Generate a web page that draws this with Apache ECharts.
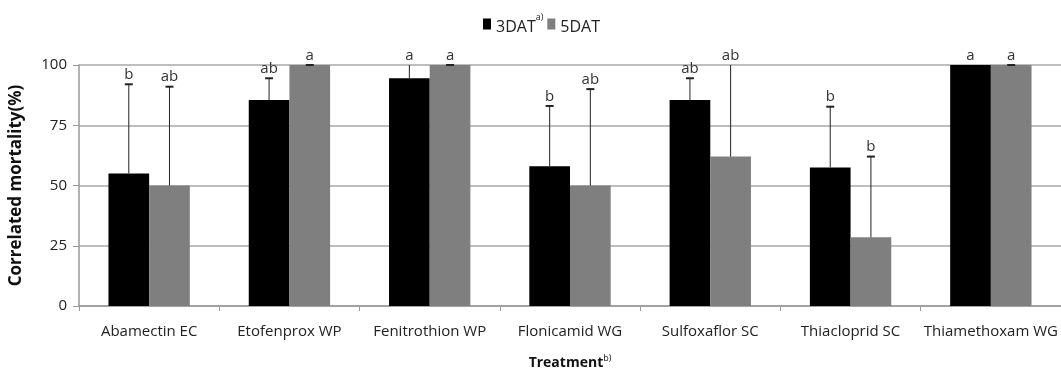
<!DOCTYPE html>
<html>
<head>
<meta charset="utf-8">
<script src="https://cdn.jsdelivr.net/npm/echarts@6/dist/echarts.min.js"></script>
<style>
html,body{margin:0;padding:0;background:#fff;}
#c{width:1061px;height:382px;}
</style>
</head>
<body>
<div id="c"></div>
<script>
var categories = ['Abamectin EC','Etofenprox WP','Fenitrothion WP','Flonicamid WG','Sulfoxaflor SC','Thiacloprid SC','Thiamethoxam WG'];
var dat3 = [55, 85.5, 94.5, 58, 85.5, 57.5, 100];
var dat5 = [50, 100, 100, 50, 62, 28.5, 100];
var dat3ErrTop = [92, 94.5, 100, 83, 94.5, 82.7, null];
var dat5ErrTop = [91, 100, 100, 90, 100, 62, 100];
var dat3Cap = [true, true, false, true, true, true, false];
var dat5Cap = [true, true, true, true, false, true, true];
var dat3Letters = ['b','ab','a','b','ab','b','a'];
var dat5Letters = ['ab','a','a','ab','ab','b','a'];
var yTicks = [0, 25, 50, 75, 100];

var chart = echarts.init(document.getElementById('c'));
var GAP = 0.42;
var FONT = '"Open Sans", "Noto Sans", sans-serif';

function errData(vals, tops, caps, letters, side) {
  return vals.map(function(v, i){
    return [i, v, tops[i] == null ? v : tops[i], side, letters[i], tops[i] == null ? 0 : 1, caps[i] ? 1 : 0];
  });
}

function renderErr(params, api) {
  var idx = api.value(0);
  var v = api.value(1);
  var top = api.value(2);
  var side = api.value(3);
  var hasErr = api.value(5);
  var hasCap = api.value(6);
  var catW = api.size([1, 0])[0];
  var barW = catW * (1 - GAP) / 2;
  var base = api.coord([idx, v]);
  var cx = base[0] + side * barW / 2;
  var pTop = api.coord([idx, top]);
  var children = [];
  var labelY = base[1];
  if (hasErr) {
    if (top > v) {
      children.push({type:'line', shape:{x1:cx, y1:base[1], x2:cx, y2:pTop[1]}, style:{stroke:'#222', lineWidth:1}});
    }
    if (hasCap) {
      children.push({type:'line', shape:{x1:cx-4, y1:pTop[1], x2:cx+4, y2:pTop[1]}, style:{stroke:'#222', lineWidth:2}});
    }
    labelY = pTop[1];
  }
  children.push({type:'text', style:{x:cx, y:labelY - 2, text:api.value(4), fill:'#333', font:'15px ' + FONT, textAlign:'center', textVerticalAlign:'bottom'}});
  return {type:'group', children: children};
}

chart.setOption({
  animation: false,
  backgroundColor: '#fff',
  legend: {
    data: ['3DAT', '5DAT'],
    top: 8,
    left: 478,
    itemWidth: 8,
    itemHeight: 11,
    itemGap: 4,
    icon: 'rect',
    formatter: function(name){ return name === '3DAT' ? '{n|3DAT}{s|a)}' : '{n|5DAT}'; },
    textStyle: {
      color: '#222',
      rich: {
        n: {fontSize: 16, fontFamily: FONT, color: '#222', padding:[6,0,0,0]},
        s: {fontSize: 9, fontFamily: FONT, color: '#222', verticalAlign: 'top', padding:[0,0,10,0]}
      }
    }
  },
  grid: {left: 74, width: 991, top: 65, height: 241, containLabel: false},
  xAxis: {
    type: 'category',
    data: categories,
    name: '{t|Treatment}{s|b)}',
    nameLocation: 'middle',
    nameGap: 48,
    nameTextStyle: {
      rich: {
        t: {fontSize: 14, fontWeight: 'bold', fontFamily: FONT, color: '#111'},
        s: {fontSize: 9, fontFamily: FONT, color: '#111', verticalAlign: 'top', padding: [0,0,10,0]}
      }
    },
    axisLine: {lineStyle: {color: '#999', width: 1.5}},
    axisTick: {show: true, length: 5, lineStyle: {color: '#999'}},
    axisLabel: {interval: 0, fontSize: 15, fontFamily: FONT, color: '#222', margin: 18}
  },
  yAxis: {
    type: 'value',
    min: 0, max: 100, interval: 25,
    name: 'Correlated mortality(%)',
    nameLocation: 'middle',
    nameGap: 54,
    nameTextStyle: {fontSize: 17, fontWeight: 'bold', fontFamily: FONT, color: '#111'},
    axisLine: {show: true, lineStyle: {color: '#999', width: 1.5}},
    axisTick: {show: true, length: 6, lineStyle: {color: '#999'}},
    axisLabel: {fontSize: 15, fontFamily: FONT, color: '#222', margin: 12,
      formatter: function(v){ return yTicks.indexOf(v) >= 0 ? String(v) : ''; }},
    splitLine: {lineStyle: {color: '#a8a8a8', width: 1.5}}
  },
  series: [
    {name: '3DAT', type: 'bar', data: dat3, barGap: 0, barCategoryGap: (GAP*100) + '%', itemStyle: {color: '#000'}},
    {name: '5DAT', type: 'bar', data: dat5, barGap: 0, barCategoryGap: (GAP*100) + '%', itemStyle: {color: '#7f7f7f'}},
    {type: 'custom', renderItem: renderErr, data: errData(dat3, dat3ErrTop, dat3Cap, dat3Letters, -1), encode: {x: 0, y: 2}, z: 10, silent: true},
    {type: 'custom', renderItem: renderErr, data: errData(dat5, dat5ErrTop, dat5Cap, dat5Letters, 1), encode: {x: 0, y: 2}, z: 10, silent: true}
  ]
});
</script>
</body>
</html>
